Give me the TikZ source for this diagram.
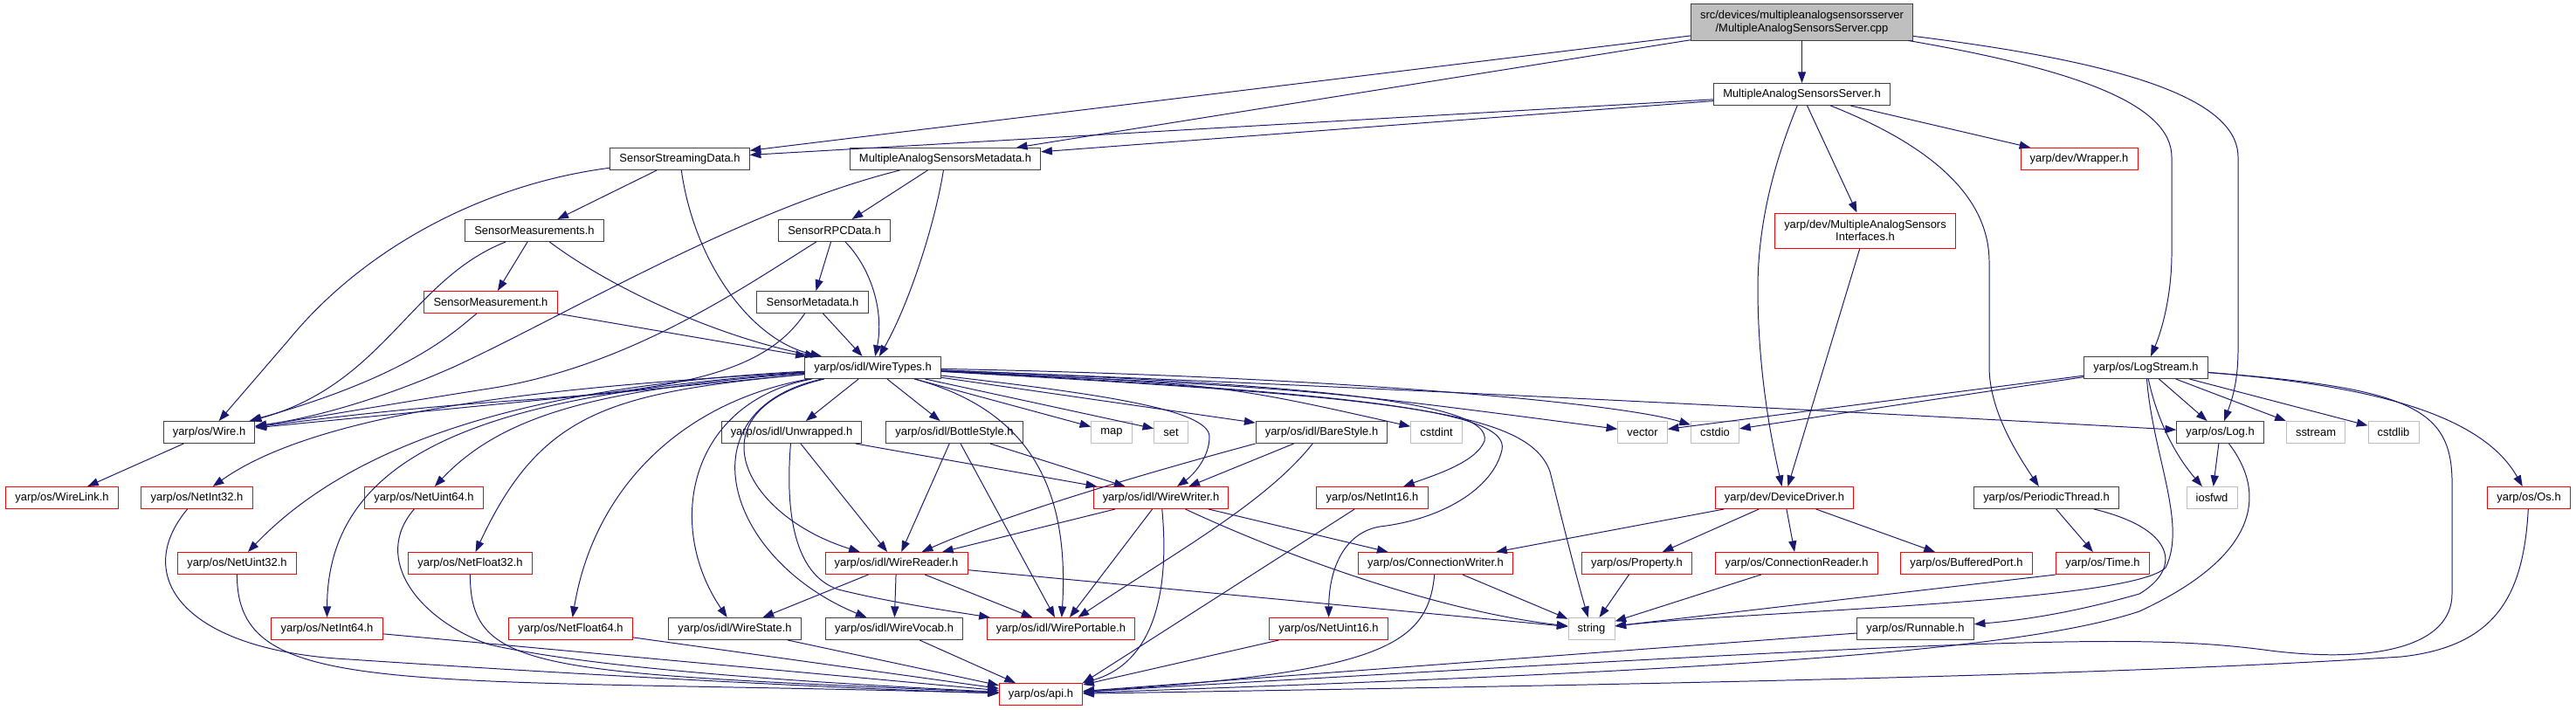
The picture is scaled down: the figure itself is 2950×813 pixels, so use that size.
\documentclass[tikz,border=0pt]{standalone}
\usepackage{fontspec}
\setmainfont{Liberation Sans}
\usepackage{tikz}
\usetikzlibrary{arrows.meta}
\definecolor{edgeblue}{HTML}{191970}
\definecolor{boxgray}{HTML}{BFBFBF}
\definecolor{boxdark}{HTML}{404040}

\begin{document}
\begin{tikzpicture}[x=0.025cm, y=-0.025cm,
    hfile/.style={draw=boxdark, line width=0.7pt, fill=white, inner xsep=7.6pt, inner ysep=1pt,
        minimum height=0.625cm, align=center, font=\fontsize{9.2}{10.4}\selectfont},
    hred/.style={hfile, draw=red},
    hsys/.style={hfile, draw=boxgray},
    hroot/.style={hfile, fill=boxgray, minimum height=1.025cm},
    dep/.style={draw=edgeblue, line width=0.7pt, -{Triangle[length=9pt, width=6.5pt]}}]
    \useasboundingbox (0,0) rectangle (2950,813);

    % Source file and its direct headers
    \node[hroot] (src) at (2063.5,25.5) {src/devices/multipleanalogsensorsserver\\/MultipleAnalogSensorsServer.cpp};
    \node[hfile] (server) at (2063.5,108) {MultipleAnalogSensorsServer.h};
    \node[hfile] (streaming) at (778.5,182) {SensorStreamingData.h};
    \node[hfile] (metadata) at (1082.5,182) {MultipleAnalogSensorsMetadata.h};
    \node[hred] (wrapper) at (2381,182) {yarp/dev/Wrapper.h};
    \node[hfile] (measurements) at (612,264) {SensorMeasurements.h};
    \node[hfile] (rpcdata) at (955.5,264) {SensorRPCData.h};
    \node[hred, minimum height=1cm] (interfaces) at (2136,264) {yarp/dev/MultipleAnalogSensors\\Interfaces.h};
    \node[hred] (measurement) at (562,346) {SensorMeasurement.h};
    \node[hfile] (sensmeta) at (930.5,346) {SensorMetadata.h};
    \node[hfile] (wiretypes) at (999.5,421) {yarp/os/idl/WireTypes.h};
    \node[hfile] (logstream) at (2457.5,421) {yarp/os/LogStream.h};

    % Middle row
    \node[hfile] (wire) at (239.5,495) {yarp/os/Wire.h};
    \node[hfile] (unwrapped) at (906.5,495) {yarp/os/idl/Unwrapped.h};
    \node[hfile] (bottlestyle) at (1093,495) {yarp/os/idl/BottleStyle.h};
    \node[hsys] (map) at (1273,495) {map};
    \node[hsys] (set) at (1341,495) {set};
    \node[hfile] (barestyle) at (1513.5,495) {yarp/os/idl/BareStyle.h};
    \node[hsys] (cstdint) at (1645,495) {cstdint};
    \node[hsys] (vector) at (1881,495) {vector};
    \node[hsys] (cstdio) at (1964,495) {cstdio};
    \node[hfile] (log) at (2542.5,495) {yarp/os/Log.h};
    \node[hsys] (sstream) at (2652,495) {sstream};
    \node[hsys] (cstdlib) at (2741,495) {cstdlib};

    \node[hred] (wirelink) at (71,570) {yarp/os/WireLink.h};
    \node[hred] (netint32) at (225.5,570) {yarp/os/NetInt32.h};
    \node[hred] (netuint64) at (485.5,570) {yarp/os/NetUint64.h};
    \node[hred] (wirewriter) at (1329.5,570) {yarp/os/idl/WireWriter.h};
    \node[hred] (netint16) at (1571.5,570) {yarp/os/NetInt16.h};
    \node[hred] (devicedriver) at (2043.5,570) {yarp/dev/DeviceDriver.h};
    \node[hfile] (periodic) at (2343.5,570) {yarp/os/PeriodicThread.h};
    \node[hsys] (iosfwd) at (2533,570) {iosfwd};
    \node[hred] (os) at (2896,570) {yarp/os/Os.h};

    \node[hred] (netuint32) at (271.5,645) {yarp/os/NetUint32.h};
    \node[hred] (netfloat32) at (538.5,645) {yarp/os/NetFloat32.h};
    \node[hred] (wirereader) at (1026.5,645) {yarp/os/idl/WireReader.h};
    \node[hred] (connwriter) at (1644,645) {yarp/os/ConnectionWriter.h};
    \node[hred] (property) at (1874.5,645) {yarp/os/Property.h};
    \node[hred] (connreader) at (2057.5,645) {yarp/os/ConnectionReader.h};
    \node[hred] (bufport) at (2252,645) {yarp/os/BufferedPort.h};
    \node[hred] (time) at (2408,645) {yarp/os/Time.h};

    % Bottom rows
    \node[hred] (netint64) at (374.5,720) {yarp/os/NetInt64.h};
    \node[hred] (netfloat64) at (653.5,720) {yarp/os/NetFloat64.h};
    \node[hfile] (wirestate) at (841.5,720) {yarp/os/idl/WireState.h};
    \node[hfile] (wirevocab) at (1024,720) {yarp/os/idl/WireVocab.h};
    \node[hred] (wireportable) at (1215,720) {yarp/os/idl/WirePortable.h};
    \node[hred] (netuint16) at (1521.5,720) {yarp/os/NetUint16.h};
    \node[hsys] (string) at (1822.5,720) {string};
    \node[hfile] (runnable) at (2193.5,720) {yarp/os/Runnable.h};
    \node[hred] (api) at (1192,795) {yarp/os/api.h};

    % Includes of the source file
    \draw[dep] (src) -- (server);
    \draw[dep] (src) -- (streaming);
    \draw[dep] (src) -- (metadata);
    \draw[dep] (src) .. controls (2380,80) and (2487,120) .. (2487,180) -- (2487,290) .. controls (2487,340) and (2475,380) .. (logstream);
    \draw[dep] (src) .. controls (2420,70) and (2563,110) .. (2563,180) -- (2563,400) .. controls (2563,440) and (2555,460) .. (log);

    % Server header
    \draw[dep] (server) -- (streaming);
    \draw[dep] (server) -- (metadata);
    \draw[dep] (server) -- (wrapper);
    \draw[dep] (server) -- (interfaces);
    \draw[dep] (server) .. controls (2030,190) and (2013,260) .. (2013,330) .. controls (2013,430) and (2030,510) .. (devicedriver);
    \draw[dep] (server) .. controls (2220,170) and (2278,230) .. (2278,300) -- (2278,420) .. controls (2278,470) and (2310,520) .. (periodic);
    \draw[dep] (interfaces) -- (devicedriver);

    % Sensor headers
    \draw[dep] (streaming) -- (measurements);
    \draw[dep] (streaming) .. controls (795,300) and (860,390) .. (wiretypes);
    \draw[dep] (streaming) .. controls (560,210) and (420,280) .. (330,390) -- (wire);
    \draw[dep] (metadata) -- (rpcdata);
    \draw[dep] (metadata) .. controls (1070,260) and (1040,350) .. (wiretypes);
    \draw[dep] (metadata) .. controls (850,240) and (650,360) .. (520,420) .. controls (430,460) and (350,480) .. (wire);
    \draw[dep] (measurements) -- (measurement);
    \draw[dep] (measurements) .. controls (700,330) and (820,385) .. (wiretypes);
    \draw[dep] (measurements) .. controls (470,320) and (440,440) .. (wire);
    \draw[dep] (rpcdata) -- (sensmeta);
    \draw[dep] (rpcdata) .. controls (1000,310) and (1012,360) .. (wiretypes);
    \draw[dep] (rpcdata) .. controls (850,330) and (720,420) .. (560,445) .. controls (450,462) and (350,480) .. (wire);
    \draw[dep] (measurement) -- (wiretypes);
    \draw[dep] (measurement) .. controls (520,380) and (470,430) .. (wire);
    \draw[dep] (sensmeta) -- (wiretypes);
    \draw[dep] (sensmeta) .. controls (880,420) and (800,445) .. (600,458) .. controls (450,468) and (350,482) .. (wire);

    % WireTypes.h
    \draw[dep] (wiretypes) -- (wire);
    \draw[dep] (wiretypes) .. controls (700,440) and (380,460) .. (netint32);
    \draw[dep] (wiretypes) .. controls (650,440) and (420,490) .. (netuint32);
    \draw[dep] (wiretypes) .. controls (700,445) and (580,470) .. (netuint64);
    \draw[dep] (wiretypes) .. controls (600,450) and (375,500) .. (netint64);
    \draw[dep] (wiretypes) .. controls (700,450) and (620,470) .. (netfloat32);
    \draw[dep] (wiretypes) .. controls (780,460) and (680,560) .. (netfloat64);
    \draw[dep] (wiretypes) .. controls (790,460) and (760,600) .. (wirestate);
    \draw[dep] (wiretypes) .. controls (780,470) and (830,640) .. (wirevocab);
    \draw[dep] (wiretypes) .. controls (790,470) and (850,590) .. (wirereader);
    \draw[dep] (wiretypes) -- (unwrapped);
    \draw[dep] (wiretypes) -- (bottlestyle);
    \draw[dep] (wiretypes) -- (map);
    \draw[dep] (wiretypes) -- (set);
    \draw[dep] (wiretypes) -- (barestyle);
    \draw[dep] (wiretypes) .. controls (1180,470) and (1225,560) .. (wireportable);
    \draw[dep] (wiretypes) .. controls (1250,450) and (1385,468) .. (1385,500) .. controls (1385,525) and (1365,545) .. (wirewriter);
    \draw[dep] (wiretypes) .. controls (1400,440) .. (cstdint);
    \draw[dep] (wiretypes) .. controls (1500,445) .. (vector);
    \draw[dep] (wiretypes) .. controls (1500,430) and (1850,460) .. (cstdio);
    \draw[dep] (wiretypes) .. controls (1500,440) and (2100,470) .. (log);
    \draw[dep] (wiretypes) .. controls (1500,440) and (1710,460) .. (1700,505) .. controls (1690,530) and (1640,545) .. (netint16);
    \draw[dep] (wiretypes) .. controls (1550,450) and (1730,470) .. (1720,515) .. controls (1710,560) and (1650,595) .. (1580,603) .. controls (1540,610) and (1522,650) .. (netuint16);
    \draw[dep] (wiretypes) .. controls (1600,455) and (1750,470) .. (1775,540) .. controls (1790,600) and (1805,660) .. (string);

    % idl styles
    \draw[dep] (unwrapped) -- (wirereader);
    \draw[dep] (unwrapped) -- (wirewriter);
    \draw[dep] (unwrapped) .. controls (898,600) and (915,660) .. (960,675) .. controls (1020,690) and (1090,700) .. (wireportable);
    \draw[dep] (bottlestyle) -- (wirereader);
    \draw[dep] (bottlestyle) -- (wireportable);
    \draw[dep] (bottlestyle) -- (wirewriter);
    \draw[dep] (barestyle.south west) .. controls (1300,545) and (1150,590) .. (wirereader);
    \draw[dep] (barestyle) -- (wirewriter);
    \draw[dep] (barestyle) .. controls (1450,575) and (1350,630) .. (wireportable);

    % WireWriter.h and WireReader.h
    \draw[dep] (wirewriter) -- (wirereader);
    \draw[dep] (wirewriter) -- (wireportable);
    \draw[dep] (wirewriter) -- (connwriter);
    \draw[dep] (wirewriter) .. controls (1480,640) and (1650,700) .. (string);
    \draw[dep] (wirewriter) .. controls (1340,680) and (1320,760) .. (api);
    \draw[dep] (wirereader) -- (wirevocab);
    \draw[dep] (wirereader) -- (wirestate);
    \draw[dep] (wirereader) -- (wireportable);
    \draw[dep] (wirereader) -- (string);
    \draw[dep] (wire) -- (wirelink);

    % DeviceDriver.h and below
    \draw[dep] (devicedriver) -- (connwriter);
    \draw[dep] (devicedriver) -- (property);
    \draw[dep] (devicedriver) -- (connreader);
    \draw[dep] (devicedriver) -- (bufport);
    \draw[dep] (connwriter) -- (string);
    \draw[dep] (connwriter) .. controls (1635,740) and (1580,770) .. (api);
    \draw[dep] (property) -- (string);
    \draw[dep] (connreader) -- (string);
    \draw[dep] (time.south west) -- (string);
    \draw[dep] (periodic) -- (time);
    \draw[dep] (periodic) .. controls (2490,605) and (2500,650) .. (2450,680) .. controls (2380,700) and (2320,710) .. (runnable);

    % LogStream.h
    \draw[dep] (logstream) -- (vector);
    \draw[dep] (logstream) -- (cstdio);
    \draw[dep] (logstream) -- (log);
    \draw[dep] (logstream) -- (sstream);
    \draw[dep] (logstream) -- (cstdlib);
    \draw[dep] (logstream) .. controls (2470,480) and (2490,520) .. (iosfwd);
    \draw[dep] (logstream) .. controls (2700,440) and (2840,470) .. (os);
    \draw[dep] (logstream) .. controls (2465,520) and (2505,600) .. (2480,650) .. controls (2440,690) and (2000,700) .. (string);
    \draw[dep] (logstream) .. controls (2770,445) and (2810,470) .. (2808,560) -- (2808,680) .. controls (2808,740) and (2720,760) .. (2600,745) .. controls (2450,725) and (2300,730) .. (api);
    \draw[dep] (log) -- (iosfwd);
    \draw[dep] (log) .. controls (2600,570) and (2580,640) .. (2450,700) .. controls (2300,750) and (1900,770) .. (api);
    \draw[dep] (os) .. controls (2890,680) and (2860,740) .. (2750,752) .. controls (2400,775) and (1800,785) .. (api);

    % Into api.h
    \draw[dep] (runnable) -- (api);
    \draw[dep] (netint16) -- (api.north east);
    \draw[dep] (netuint16) -- (api);
    \draw[dep] (wirevocab) -- (api);
    \draw[dep] (wirestate) -- (api);
    \draw[dep] (netfloat64) -- (api);
    \draw[dep] (netint64) -- (api);
    \draw[dep] (netfloat32) .. controls (538,770) and (620,770) .. (api);
    \draw[dep] (netuint32) .. controls (271,800) and (450,775) .. (api);
    \draw[dep] (netint32) .. controls (150,660) and (210,745) .. (400,755) .. controls (700,775) and (1000,790) .. (api);
    \draw[dep] (netuint64) .. controls (425,640) and (480,710) .. (560,738) .. controls (700,770) and (1000,785) .. (api);
\end{tikzpicture}
\end{document}
